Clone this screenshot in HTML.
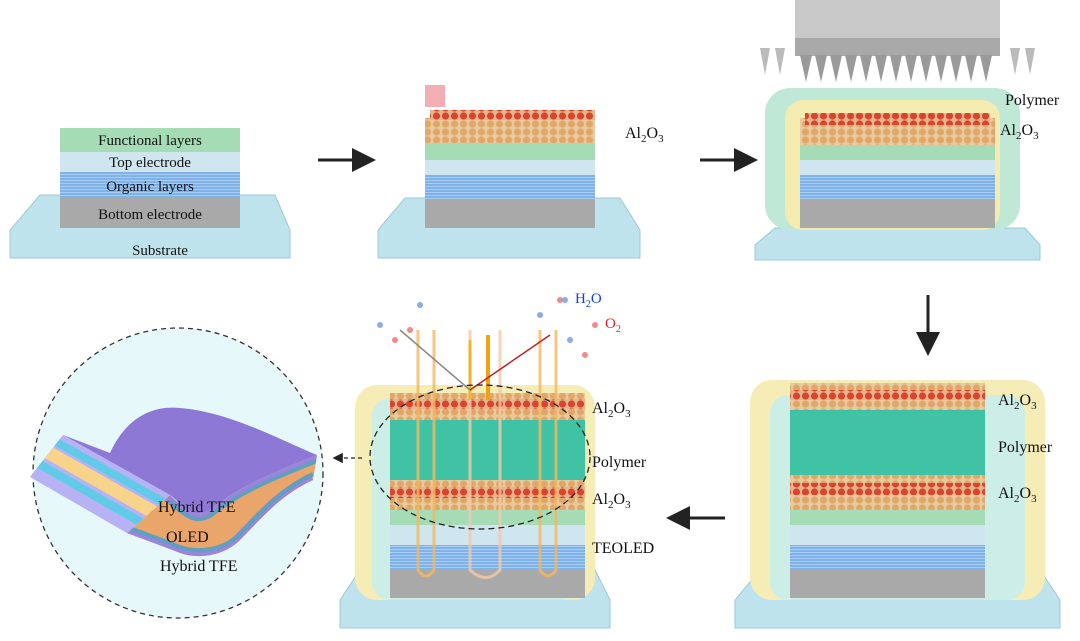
<!DOCTYPE html>
<html><head><meta charset="utf-8"><style>
html,body{margin:0;padding:0;background:#fff;overflow:hidden}
svg{display:block}
svg text{font-family:"Liberation Serif",serif;fill:#111}
</style></head><body>
<svg width="1080" height="641" viewBox="0 0 1080 641" xmlns="http://www.w3.org/2000/svg">
<defs>
<pattern id="balls" width="9" height="8" patternUnits="userSpaceOnUse">
<rect width="9" height="8" fill="#e9c9a0"/>
<circle cx="4.5" cy="4" r="3.6" fill="#e0a868"/>
</pattern>
<pattern id="rballs" width="9" height="8" patternUnits="userSpaceOnUse">
<rect width="9" height="8" fill="#e6b48a"/>
<circle cx="4.5" cy="4" r="3.6" fill="#d8442e"/>
</pattern>
<pattern id="lines" width="6" height="3" patternUnits="userSpaceOnUse">
<rect width="6" height="3" fill="#7fb2ea"/><rect width="6" height="1" fill="#a8cdf3"/>
</pattern>
<marker id="ah" markerWidth="8" markerHeight="8" refX="6" refY="4" orient="auto"><path d="M0,0 L8,4 L0,8 Z" fill="#222"/></marker>
<clipPath id="side"><path d="M170,495 C185,510 195,518 210,510 C240,485 280,470 317,455 L313,480 C280,495 260,520 240,540 C225,555 200,560 180,553 C160,545 140,538 127,533 Z"/></clipPath>
</defs>

<!-- Panel 1 -->
<polygon points="40,195 275,195 290,230 290,258 10,258 10,230" fill="#bfe3ec" stroke="#9cc9d6"/>
<rect x="60" y="198" width="180" height="30" fill="#a9a9a9"/>
<rect x="60" y="172" width="180" height="26" fill="url(#lines)"/>
<rect x="60" y="152" width="180" height="20" fill="#cfe6f0"/>
<rect x="60" y="128" width="180" height="24" fill="#a5dbb5"/>
<text x="150" y="145" font-size="15" text-anchor="middle">Functional layers</text>
<text x="150" y="167" font-size="15" text-anchor="middle">Top electrode</text>
<text x="150" y="191" font-size="15" text-anchor="middle">Organic layers</text>
<text x="150" y="219" font-size="15" text-anchor="middle">Bottom electrode</text>
<text x="160" y="255" font-size="15" text-anchor="middle">Substrate</text>

<line x1="318" y1="160" x2="370" y2="160" stroke="#222" stroke-width="3" marker-end="url(#ah)"/>

<!-- Panel 2 -->
<polygon points="405,198 620,198 640,230 640,258 378,258 378,230" fill="#bfe3ec" stroke="#9cc9d6"/>
<rect x="425" y="200" width="170" height="28" fill="#a9a9a9"/>
<rect x="425" y="175" width="170" height="25" fill="url(#lines)"/>
<rect x="425" y="160" width="170" height="15" fill="#cfe6f0"/>
<rect x="425" y="143" width="170" height="17" fill="#a5dbb5"/>
<rect x="425" y="118" width="170" height="25" fill="url(#balls)"/>
<rect x="430" y="110" width="165" height="10" fill="url(#rballs)"/>
<rect x="425" y="85" width="20" height="22" fill="#f09aa0" opacity="0.8"/>
<text x="625" y="138" font-size="16">Al<tspan font-size="11" dy="4">2</tspan><tspan dy="-4">O</tspan><tspan font-size="11" dy="4">3</tspan></text>

<line x1="700" y1="160" x2="752" y2="160" stroke="#222" stroke-width="3" marker-end="url(#ah)"/>

<!-- Panel 3 -->
<rect x="795" y="0" width="205" height="40" fill="#c9c9c9"/>
<rect x="795" y="38" width="205" height="18" fill="#a8a8a8"/>
<g fill="#bbb">
<polygon points="760,48 770,48 765,75"/><polygon points="775,48 785,48 780,75"/><polygon points="1010,48 1020,48 1015,75"/><polygon points="1025,48 1035,48 1030,75"/>
</g>
<g fill="#9a9a9a">
<polygon points="800,55 812,55 806,82"/><polygon points="815,55 827,55 821,82"/><polygon points="830,55 842,55 836,82"/><polygon points="845,55 857,55 851,82"/><polygon points="860,55 872,55 866,82"/><polygon points="875,55 887,55 881,82"/><polygon points="890,55 902,55 896,82"/><polygon points="905,55 917,55 911,82"/><polygon points="920,55 932,55 926,82"/><polygon points="935,55 947,55 941,82"/><polygon points="950,55 962,55 956,82"/><polygon points="965,55 977,55 971,82"/><polygon points="980,55 992,55 986,82"/>
</g>
<polygon points="775,228 1025,228 1040,245 1040,260 755,260 755,245" fill="#bfe3ec" stroke="#9cc9d6"/>
<rect x="765" y="88" width="255" height="142" rx="25" fill="#bfe8d6"/>
<rect x="785" y="100" width="215" height="130" rx="18" fill="#f4ebb0"/>
<rect x="800" y="200" width="195" height="28" fill="#a9a9a9"/>
<rect x="800" y="175" width="195" height="25" fill="url(#lines)"/>
<rect x="800" y="160" width="195" height="15" fill="#cfe6f0"/>
<rect x="800" y="145" width="195" height="15" fill="#a5dbb5"/>
<rect x="800" y="118" width="195" height="27" fill="url(#balls)"/>
<rect x="805" y="113" width="185" height="12" fill="url(#rballs)"/>
<text x="1005" y="105" font-size="16">Polymer</text>
<text x="1000" y="135" font-size="16">Al<tspan font-size="11" dy="4">2</tspan><tspan dy="-4">O</tspan><tspan font-size="11" dy="4">3</tspan></text>

<line x1="928" y1="295" x2="928" y2="350" stroke="#222" stroke-width="3" marker-end="url(#ah)"/>

<!-- Panel 4 -->
<polygon points="760,570 1040,570 1060,600 1060,628 735,628 735,600" fill="#bfe3ec" stroke="#9cc9d6"/>
<rect x="750" y="380" width="295" height="220" rx="22" fill="#f6edb6"/>
<rect x="770" y="395" width="255" height="205" rx="18" fill="#cdeee6"/>
<rect x="790" y="570" width="195" height="28" fill="#a9a9a9"/>
<rect x="790" y="545" width="195" height="25" fill="url(#lines)"/>
<rect x="790" y="525" width="195" height="20" fill="#cfe6f0"/>
<rect x="790" y="510" width="195" height="15" fill="#a5dbb5"/>
<rect x="790" y="475" width="195" height="35" fill="url(#balls)"/>
<rect x="790" y="483" width="195" height="12" fill="url(#rballs)"/>
<rect x="790" y="410" width="195" height="65" fill="#3fc3a4"/>
<rect x="790" y="383" width="195" height="27" fill="url(#balls)"/>
<rect x="790" y="390" width="195" height="10" fill="url(#rballs)"/>
<text x="998" y="405" font-size="16">Al<tspan font-size="11" dy="4">2</tspan><tspan dy="-4">O</tspan><tspan font-size="11" dy="4">3</tspan></text>
<text x="998" y="452" font-size="16">Polymer</text>
<text x="998" y="498" font-size="16">Al<tspan font-size="11" dy="4">2</tspan><tspan dy="-4">O</tspan><tspan font-size="11" dy="4">3</tspan></text>

<line x1="725" y1="518" x2="672" y2="518" stroke="#222" stroke-width="3" marker-end="url(#ah)"/>

<!-- Panel 5 -->
<polygon points="360,570 595,570 610,600 610,628 340,628 340,600" fill="#bfe3ec" stroke="#9cc9d6"/>
<rect x="355" y="385" width="240" height="215" rx="22" fill="#f6edb6"/>
<rect x="372" y="398" width="208" height="202" rx="18" fill="#cdeee6"/>
<rect x="390" y="570" width="195" height="28" fill="#a9a9a9"/>
<rect x="390" y="545" width="195" height="25" fill="url(#lines)"/>
<rect x="390" y="525" width="195" height="20" fill="#cfe6f0"/>
<rect x="390" y="510" width="195" height="15" fill="#a5dbb5"/>
<rect x="390" y="480" width="195" height="30" fill="url(#balls)"/>
<rect x="390" y="487" width="195" height="11" fill="url(#rballs)"/>
<rect x="390" y="420" width="195" height="60" fill="#3fc3a4"/>
<rect x="390" y="393" width="195" height="27" fill="url(#balls)"/>
<rect x="390" y="399" width="195" height="10" fill="url(#rballs)"/>
<g fill="none" stroke="#f4b860" stroke-width="3" opacity="0.8">
<path d="M418,330 V570 Q426,582 434,570 V330"/>
<path d="M540,330 V570 Q548,582 556,570 V330"/>
</g>
<g fill="none" stroke="#f4c9a8" stroke-width="3" opacity="0.8">
<path d="M470,330 V570 Q486,585 500,570 V330"/>
</g>
<line x1="488" y1="400" x2="488" y2="335" stroke="#f2a20c" stroke-width="4"/>
<line x1="470" y1="400" x2="470" y2="340" stroke="#f4b32a" stroke-width="3"/>
<line x1="400" y1="330" x2="470" y2="390" stroke="#888" stroke-width="1.5"/>
<line x1="470" y1="390" x2="550" y2="335" stroke="#c02020" stroke-width="1.5"/>
<g fill="#ee5a5a" opacity="0.7"><circle cx="395" cy="340" r="3"/><circle cx="410" cy="330" r="3"/><circle cx="595" cy="325" r="3"/><circle cx="585" cy="355" r="3"/><circle cx="560" cy="300" r="3"/></g>
<g fill="#5a8ae8" opacity="0.7"><circle cx="380" cy="325" r="3"/><circle cx="420" cy="305" r="3"/><circle cx="565" cy="300" r="3"/><circle cx="570" cy="340" r="3"/><circle cx="540" cy="315" r="3"/></g>
<ellipse cx="480" cy="457" rx="110" ry="72" fill="none" stroke="#222" stroke-dasharray="6,4" stroke-width="1.3"/>
<text x="575" y="303" font-size="15" style="fill:#1a3fd0">H<tspan font-size="10" dy="4" style="fill:#1a3fd0">2</tspan><tspan dy="-4" style="fill:#1a3fd0">O</tspan></text>
<text x="605" y="328" font-size="15" style="fill:#e02020">O<tspan font-size="10" dy="4" style="fill:#e02020">2</tspan></text>
<text x="592" y="413" font-size="16">Al<tspan font-size="11" dy="4">2</tspan><tspan dy="-4">O</tspan><tspan font-size="11" dy="4">3</tspan></text>
<text x="592" y="467" font-size="16">Polymer</text>
<text x="592" y="504" font-size="16">Al<tspan font-size="11" dy="4">2</tspan><tspan dy="-4">O</tspan><tspan font-size="11" dy="4">3</tspan></text>
<text x="592" y="553" font-size="16">TEOLED</text>

<!-- circle -->
<circle cx="178" cy="473" r="145" fill="#e6f8f9" stroke="#333" stroke-dasharray="5,4" stroke-width="1.3"/>
<!-- top surface -->
<path d="M63,435 L110,453 C125,420 150,405 180,408 C230,412 280,440 317,455 C280,470 240,485 210,510 C200,520 195,520 190,513 C180,505 175,498 170,495 Z" fill="#8e78d6"/>
<!-- curved side -->
<g clip-path="url(#side)">
<rect x="120" y="440" width="210" height="130" fill="#e9a56a"/>
<path d="M170,495 C185,510 195,518 210,510 C240,485 280,470 317,455" fill="none" stroke="#9a84dc" stroke-width="14"/>
<path d="M170,501 C185,516 195,524 210,516 C240,491 280,476 317,461" fill="none" stroke="#5fa0c0" stroke-width="4"/>
<path d="M127,533 C140,538 160,545 180,553 C200,560 225,555 240,540 C260,520 280,495 313,480" fill="none" stroke="#9a84dc" stroke-width="14"/>
<path d="M127,527 C140,532 160,539 180,547 C200,554 225,549 240,534 C260,514 280,489 313,474" fill="none" stroke="#5fa0c0" stroke-width="4"/>
</g>
<!-- front face -->
<polygon points="63,435 170,495 127,533 30,477" fill="#b7b2f4"/>
<polygon points="59.7,439.2 165.7,498.8 159.25,504.5 54.75,445.5" fill="#5fcbe8"/>
<polygon points="53.1,447.6 157.1,506.4 146.35,515.9 44.85,458.1" fill="#f8d48a"/>
<polygon points="42.5,461 143.3,518.6 136.5,524.6 37.3,467.8" fill="#5fcbe8"/>
<line x1="362" y1="458" x2="335" y2="458" stroke="#222" stroke-dasharray="4,3" stroke-width="1.3" marker-end="url(#ah)"/>
<text x="158" y="512" font-size="16">Hybrid TFE</text>
<text x="166" y="542" font-size="16">OLED</text>
<text x="160" y="571" font-size="16">Hybrid TFE</text>
</svg>
</body></html>
